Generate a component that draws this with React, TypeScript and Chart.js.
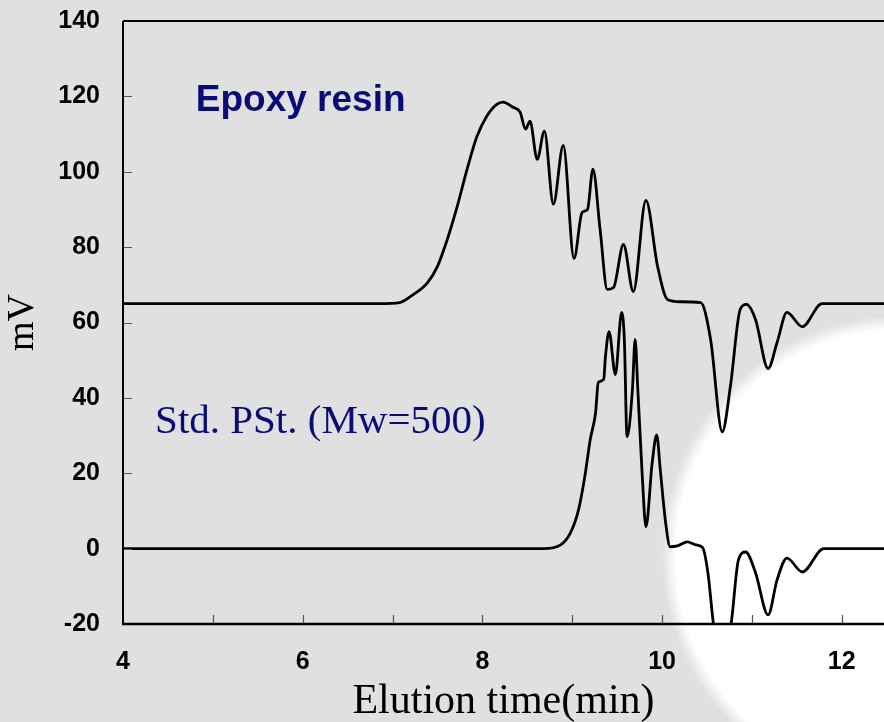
import React, { useEffect, useRef } from 'react';
import { Chart, registerables } from 'chart.js';

Chart.register(...registerables);

// Epoxy resin trace (elution time in min, detector signal in mV)
const epoxyTime = [
  4.0, 6.75, 6.86, 7.08, 7.23, 7.39, 7.5, 7.61, 7.72, 7.83, 7.94, 8.05, 8.16, 8.23, 8.34, 8.42,
  8.48, 8.53, 8.61, 8.69, 8.79, 8.9, 9.02, 9.11, 9.17, 9.23, 9.31, 9.39, 9.46, 9.57, 9.68, 9.82,
  9.95, 10.06, 10.2, 10.43, 10.54, 10.67, 10.76, 10.87, 10.94, 11.04, 11.18, 11.28, 11.39, 11.56,
  11.78, 12.47,
];
const epoxyMV = [
  65, 65, 65, 65.3, 67.4, 70.6, 74.9, 82.1, 90.8, 100.7, 109.4, 114.8, 117.9, 118.5, 117.1, 115.8,
  111.3, 113.4, 103.3, 110.8, 91.4, 107.0, 77.0, 89.2, 90.0, 100.7, 84.7, 68.8, 69.3, 80.7, 68.2, 92.4,
  74.9, 66.1, 65.5, 65.3, 55.5, 31.0, 43.0, 63.5, 64.8, 60.8, 47.8, 54.7, 62.7, 58.9,
  65, 65,
];

// Std. PSt. (Mw=500) trace
const pstTime = [
  4.0, 8.42, 8.68, 8.87, 8.98, 9.07, 9.14, 9.2, 9.26, 9.29, 9.35, 9.37, 9.41, 9.48, 9.55, 9.58,
  9.61, 9.67, 9.7, 9.73, 9.78, 9.82, 9.89, 9.94, 9.98, 10.04, 10.09, 10.18, 10.28, 10.38, 10.45,
  10.51, 10.57, 10.66, 10.77, 10.85, 10.93, 11.04, 11.18, 11.28, 11.39, 11.56, 11.8, 12.47,
];
const pstMV = [
  0, 0, 0, 1.0, 4.2, 10.3, 19.1, 28.9, 36.1, 44.1, 44.9, 51.0, 57.6, 46.2, 62.7, 55.5,
  29.7, 42.2, 55.5, 42.2, 19.1, 5.8, 22.8, 30.2, 20.9, 6.8, 0.5, 0.8, 1.8, 1.0, 0.3,
  -6.4, -19.7, -34, -19.7, -3.0, -0.9, -6.4, -17.6, -8.3, -2.5, -6.2, 0, 0,
];

const xMin = 4;
const xMax = 12.47;
const yMin = -20;
const yMax = 140;
const xLabelled = [4, 6, 8, 10, 12];

const NAVY = '#0b0b78';

const backgroundPlugin = {
  id: 'pageBackground',
  beforeDraw(chart: any) {
    const { ctx, width, height } = chart;
    ctx.save();
    ctx.fillStyle = '#e0e0e0';
    ctx.fillRect(0, 0, width, height);
    const cx = width * 1.02;
    const cy = height * 0.769;
    const r = 240;
    const g = ctx.createRadialGradient(cx, cy, 0, cx, cy, r);
    g.addColorStop(0, 'rgba(255,255,255,1)');
    g.addColorStop(0.94, 'rgba(255,255,255,1)');
    g.addColorStop(1, 'rgba(255,255,255,0)');
    ctx.fillStyle = g;
    ctx.beginPath();
    ctx.arc(cx, cy, r, 0, Math.PI * 2);
    ctx.fill();
    ctx.restore();
  },
};

const framePlugin = {
  id: 'frameAndNotes',
  afterDraw(chart: any) {
    const { ctx, chartArea } = chart;
    const xs = chart.scales.x;
    const ys = chart.scales.y;
    const { left, right, top, bottom } = chartArea;
    ctx.save();
    // tick marks (inward)
    ctx.strokeStyle = '#555';
    ctx.lineWidth = 1.2;
    ctx.beginPath();
    for (let t = Math.ceil(xMin) + 1; t <= xMax; t++) {
      const px = Math.round(xs.getPixelForValue(t)) + 0.5;
      ctx.moveTo(px, bottom);
      ctx.lineTo(px, bottom - 9);
    }
    for (let v = yMin + 20; v < yMax; v += 20) {
      const py = Math.round(ys.getPixelForValue(v)) + 0.5;
      ctx.moveTo(left, py);
      ctx.lineTo(left + 9, py);
    }
    ctx.stroke();
    // frame lines
    ctx.strokeStyle = '#000';
    ctx.lineWidth = 2;
    ctx.beginPath();
    ctx.moveTo(left, top);
    ctx.lineTo(right, top);
    ctx.moveTo(left, top);
    ctx.lineTo(left, bottom);
    ctx.stroke();
    ctx.lineWidth = 2.5;
    ctx.beginPath();
    ctx.moveTo(left - 1, bottom);
    ctx.lineTo(right, bottom);
    ctx.stroke();

    // annotations
    ctx.fillStyle = NAVY;
    ctx.textBaseline = 'alphabetic';
    ctx.textAlign = 'left';
    ctx.font = 'bold 37px "Liberation Sans", Arial, sans-serif';
    ctx.fillText('Epoxy resin', xs.getPixelForValue(4.81), ys.getPixelForValue(116.1));
    ctx.font = '41px "Liberation Serif", "Times New Roman", serif';
    ctx.fillText('Std. PSt. (Mw=500)', xs.getPixelForValue(4.357), ys.getPixelForValue(30.8));
    ctx.restore();
  },
};

export default function App() {
  const canvasRef = useRef<HTMLCanvasElement | null>(null);

  useEffect(() => {
    const canvas = canvasRef.current;
    if (!canvas) return;
    const chart = new Chart(canvas, {
      type: 'line',
      data: {
        datasets: [
          {
            label: 'Epoxy resin',
            data: epoxyTime.map((t, i) => ({ x: t, y: epoxyMV[i] })),
            borderColor: '#000',
            borderWidth: 2.8,
            pointRadius: 0,
            fill: false,
            cubicInterpolationMode: 'monotone',
          },
          {
            label: 'Std. PSt. (Mw=500)',
            data: pstTime.map((t, i) => ({ x: t, y: pstMV[i] })),
            borderColor: '#000',
            borderWidth: 2.8,
            pointRadius: 0,
            fill: false,
            cubicInterpolationMode: 'monotone',
          },
        ],
      },
      options: {
        animation: false,
        responsive: false,
        devicePixelRatio: 1,
        layout: { autoPadding: false, padding: { top: 21, left: 0, right: 0, bottom: 0 } },
        plugins: {
          legend: { display: false },
          tooltip: { enabled: false },
        },
        scales: {
          x: {
            type: 'linear',
            min: xMin,
            max: xMax,
            afterFit: (s: any) => {
              s.height = 98;
              s.paddingLeft = 0;
              s.paddingRight = 0;
            },
            grid: { display: false, drawTicks: false },
            border: { display: false },
            ticks: {
              stepSize: 1,
              includeBounds: false,
              autoSkip: false,
              maxRotation: 0,
              padding: 23,
              color: '#000',
              font: {
                family: '"Liberation Sans", Arial, sans-serif',
                size: 25,
                weight: 'bold',
              },
              callback: (v: any) => (xLabelled.includes(Number(v)) ? String(v) : ''),
            },
            title: {
              display: true,
              text: 'Elution time(min)',
              color: '#000',
              padding: { top: 0, bottom: -5 },
              font: { family: '"Liberation Serif", "Times New Roman", serif', size: 42, weight: 'normal' },
            },
          },
          y: {
            min: yMin,
            max: yMax,
            afterFit: (s: any) => {
              s.width = 123;
              s.paddingTop = 0;
              s.paddingBottom = 0;
            },
            grid: { display: false, drawTicks: false },
            border: { display: false },
            ticks: {
              stepSize: 20,
              padding: 23,
              color: '#000',
              font: { family: '"Liberation Sans", Arial, sans-serif', size: 25, weight: 'bold' },
            },
            title: {
              display: true,
              text: 'mV',
              color: '#000',
              padding: { top: 0, bottom: 0 },
              font: { family: '"Liberation Serif", "Times New Roman", serif', size: 38, weight: 'normal' },
            },
          },
        },
      },
      plugins: [backgroundPlugin, framePlugin],
    } as any);
    return () => chart.destroy();
  }, []);

  return (
    <div style={{ position: 'fixed', left: 0, top: 0, width: 884, height: 722, overflow: 'hidden' }}>
      <canvas ref={canvasRef} width={884} height={722} style={{ display: 'block' }} />
    </div>
  );
}
